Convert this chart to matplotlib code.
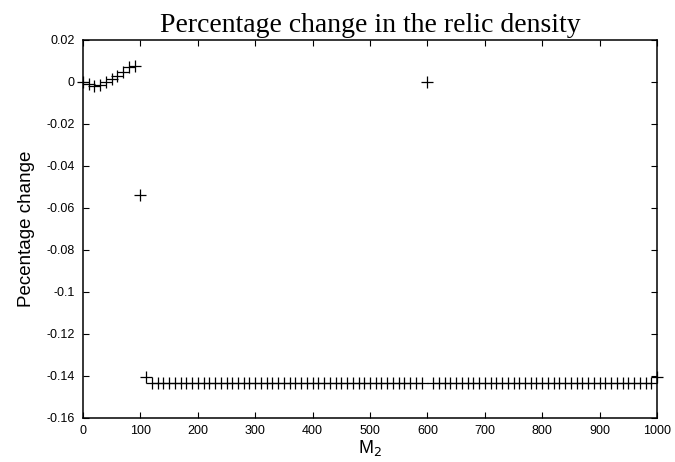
import numpy as np
import matplotlib
matplotlib.use("Agg")
import matplotlib.pyplot as plt

plt.rcParams['axes.unicode_minus'] = False

# M_2 values (every 10 from 0 to 1000)
m2 = np.arange(0, 1001, 10)

# Percentage change
low = -0.1432
pct_change = (
    [0.0, -0.001, -0.002, -0.0012, 0.0, 0.0015, 0.003, 0.005, 0.007, 0.0078,   # 0..90
     -0.054,                                                                  # 100
     -0.1405]                                                                 # 110
    + [low, low, low, low, low, low, low, low, low, low,                      # 120..210
       low, low, low, low, low, low, low, low, low, low,                      # 220..310
       low, low, low, low, low, low, low, low, low, low,                      # 320..410
       low, low, low, low, low, low, low, low, low, low,                      # 420..510
       low, low, low, low, low, low, low, low]                                # 520..590
    + [0.0]                                                                   # 600
    + [low, low, low, low, low, low, low, low, low, low,                      # 610..700
       low, low, low, low, low, low, low, low, low, low,                      # 710..800
       low, low, low, low, low, low, low, low, low, low,                      # 810..900
       low, low, low, low, low, low, low, low, low]                           # 910..990
    + [-0.1405]                                                               # 1000
)

xticks = [0, 100, 200, 300, 400, 500, 600, 700, 800, 900, 1000]
yticks = [0.02, 0, -0.02, -0.04, -0.06, -0.08, -0.1, -0.12, -0.14, -0.16]
ytick_labels = ["0.02", "0", "-0.02", "-0.04", "-0.06", "-0.08", "-0.1", "-0.12", "-0.14", "-0.16"]

W, H = 675, 462
L, R, T, B = 83, 657, 40, 418

fig = plt.figure(figsize=(W / 100, H / 100), dpi=100)
ax = fig.add_axes([L / W, 1 - B / H, (R - L) / W, (B - T) / H])

ax.plot(m2, pct_change, linestyle='none', marker='+', color='black',
        markersize=8.5, markeredgewidth=0.9, clip_on=False)

ax.set_xlim(0, 1000)
ax.set_ylim(-0.16, 0.02)
ax.set_xticks(xticks)
ax.set_xticklabels([str(v) for v in xticks], fontsize=9, family='Liberation Sans')
ax.set_yticks(yticks)
ax.set_yticklabels(ytick_labels, fontsize=9, family='Liberation Sans')
ax.tick_params(direction='in', length=4.5, width=0.8, top=True, right=True)
ax.tick_params(axis='y', pad=6)
ax.tick_params(axis='x', pad=5)

for s in ax.spines.values():
    s.set_linewidth(1.1)

ax.set_title("Percentage change in the relic density", family='Liberation Serif',
             fontsize=20, pad=6)
ax.set_xlabel("M$_2$", family='Liberation Sans', fontsize=13, labelpad=1)
ax.set_ylabel("Pecentage change", family='Liberation Sans', fontsize=13.5, labelpad=8)

fig.savefig("out.png", dpi=100)
